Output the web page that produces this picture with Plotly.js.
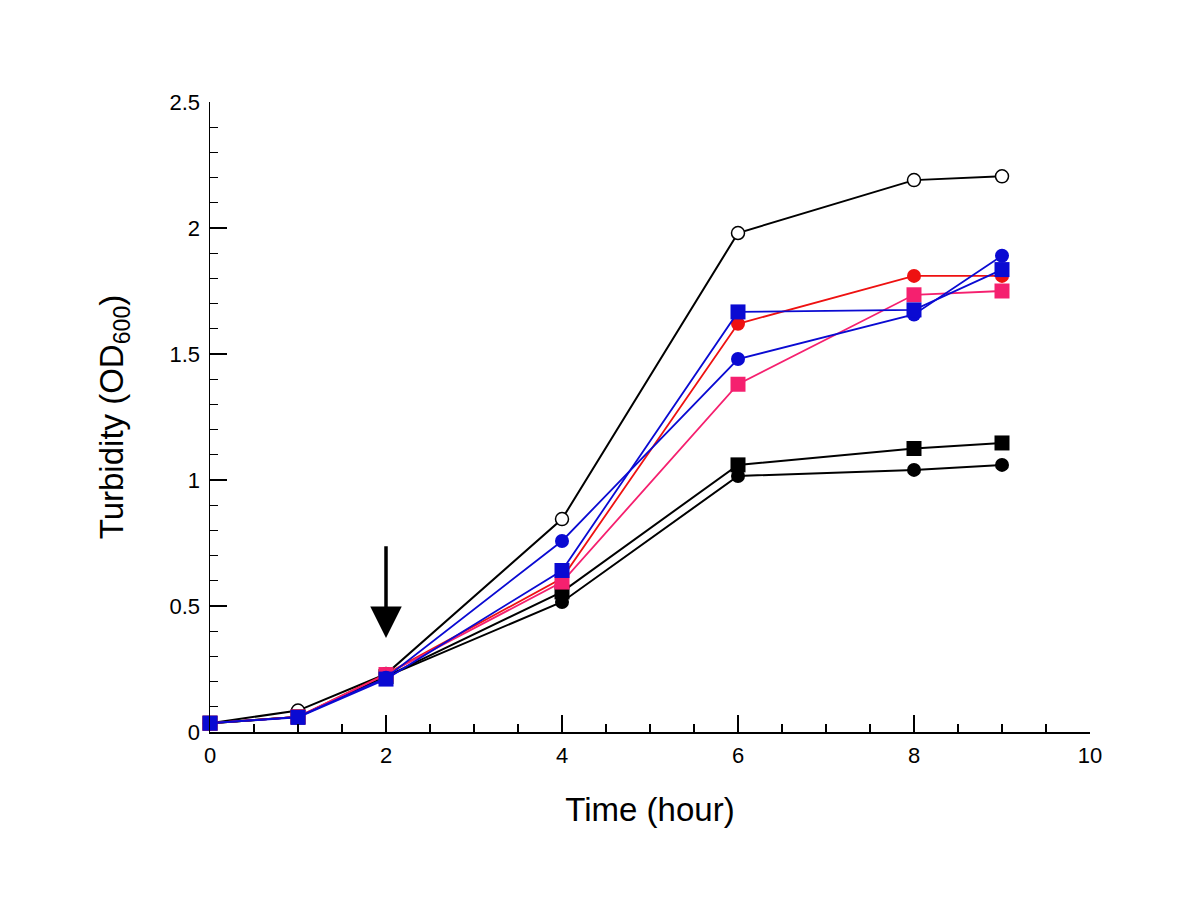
<!DOCTYPE html>
<html>
<head>
<meta charset="utf-8">
<script src="https://cdn.plot.ly/plotly-3.0.1.min.js"></script>
<style>html,body{margin:0;padding:0;background:#fff}#chart{width:1200px;height:900px}</style>
</head>
<body>
<div id="chart"></div>
<script>
const time = [0, 1, 2, 4, 6, 8, 9];
const openCircleBlack = [0.035, 0.085, 0.23, 0.845, 1.98, 2.19, 2.205];
const filledCircleBlack = [0.035, 0.06, 0.22, 0.516, 1.016, 1.04, 1.06];
const filledSquareBlack = [0.035, 0.06, 0.22, 0.556, 1.06, 1.125, 1.147];
const filledCircleRed = [0.035, 0.06, 0.23, 0.61, 1.62, 1.81, 1.81];
const filledSquarePink = [0.035, 0.06, 0.228, 0.595, 1.38, 1.735, 1.75];
const filledCircleBlue = [0.035, 0.06, 0.215, 0.758, 1.48, 1.657, 1.89];
const filledSquareBlue = [0.035, 0.058, 0.21, 0.641, 1.667, 1.675, 1.835];

const arrowX = 2, arrowTop = 0.745, arrowTip = 0.373;

function tr(y, color, symbol, size, lw, fill) {
  return {
    x: time, y: y, type: 'scatter', mode: 'lines+markers',
    line: {color: color, width: lw},
    marker: {symbol: symbol, size: size, color: fill || color,
             line: {color: color, width: fill ? 1.5 : 0}},
    showlegend: false, cliponaxis: false
  };
}

const data = [
  tr(openCircleBlack, '#000000', 'circle', 13, 2, '#ffffff'),
  tr(filledCircleBlack, '#000000', 'circle', 14, 2),
  tr(filledSquareBlack, '#000000', 'square', 15, 2),
  tr(filledCircleRed, '#ee1111', 'circle', 14, 1.8),
  tr(filledSquarePink, '#f5206f', 'square', 15, 1.8),
  tr(filledCircleBlue, '#0a0ad2', 'circle', 14, 1.8),
  tr(filledSquareBlue, '#0a0ad2', 'square', 15, 1.8)
];

const layout = {
  width: 1200, height: 900,
  paper_bgcolor: '#fff', plot_bgcolor: '#fff',
  margin: {l: 210, r: 110, t: 102, b: 168},
  font: {family: 'Liberation Sans, Arial, sans-serif', color: '#000'},
  xaxis: {
    range: [0, 10], tick0: 0, dtick: 2, ticks: 'inside', ticklen: 17, tickwidth: 1.2,
    tickcolor: '#000', showline: true, linecolor: '#000', linewidth: 1.5,
    showgrid: false, zeroline: false, tickfont: {size: 22}, ticklabelstandoff: 3,
    minor: {dtick: 0.5, ticks: 'inside', ticklen: 8, tickwidth: 1.2, tickcolor: '#000', showgrid: false},
    title: {text: 'Time (hour)', font: {size: 33}, standoff: 31}
  },
  yaxis: {
    range: [0, 2.5], tick0: 0, dtick: 0.5, ticks: 'inside', ticklen: 17, tickwidth: 1.2,
    tickcolor: '#000', showline: true, linecolor: '#000', linewidth: 1.5,
    showgrid: false, zeroline: false, tickfont: {size: 22}, ticklabelstandoff: 4,
    minor: {dtick: 0.1, ticks: 'inside', ticklen: 8, tickwidth: 1.2, tickcolor: '#000', showgrid: false},
    title: {text: 'Turbidity (OD<sub>600</sub>)', font: {size: 33}, standoff: 36}
  },
  annotations: [{
    x: arrowX, y: arrowTip, ax: arrowX, ay: arrowTop, xref: 'x', yref: 'y',
    axref: 'x', ayref: 'y', text: ' ', font: {size: 1}, showarrow: true, arrowhead: 2,
    arrowsize: 1.8, arrowwidth: 3.5, arrowcolor: '#000'
  }]
};

Plotly.newPlot('chart', data, layout, {displayModeBar: false, staticPlot: true});
</script>
</body>
</html>
